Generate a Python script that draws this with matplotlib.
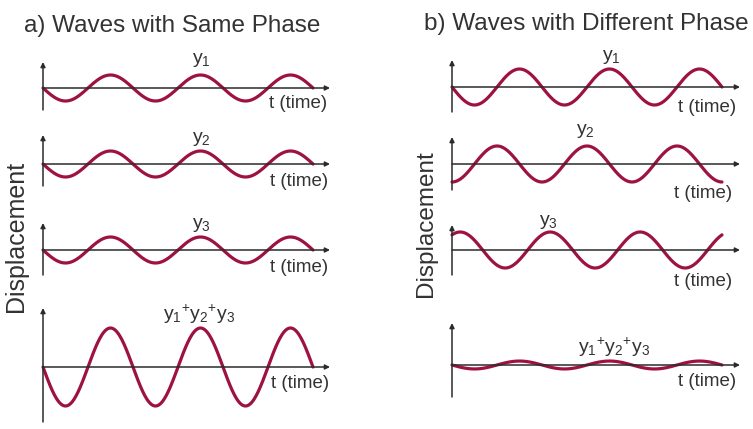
"""
Superposition of waves: same phase vs different phase
"""

import numpy as np
import matplotlib.pyplot as plt

plt.rcParams['font.family'] = ['Liberation Sans', 'DejaVu Sans']
plt.rcParams['mathtext.fontset'] = 'custom'
plt.rcParams['mathtext.rm'] = 'Liberation Sans'

W, H = 753, 429

# wave parameters (amplitude in units of one wave, phase in rad)
CYCLES = 3
LEFT_AMP = [1.0, 1.0, 1.0, 3.0]
LEFT_PHASE = [np.pi, np.pi, np.pi, np.pi]
RIGHT_AMP = [1.0, 1.0, 1.0, 0.22]
RIGHT_PHASE = [np.pi, -np.pi / 2, 1.0, np.pi]
WAVE_LABELS = [r'$\mathregular{y_1}$', r'$\mathregular{y_2}$', r'$\mathregular{y_3}$',
               r'$\mathregular{y_1{}^{+}y_2{}^{+}y_3}$']
TITLES = ['a) Waves with Same Phase', 'b) Waves with Different Phase']
T_LABEL = 't (time)'
Y_LABEL = 'Displacement'

WAVE_COLOR = '#9e1240'
AXIS_COLOR = '#2b2b2b'
TEXT_COLOR = '#333333'

# panel layout in pixels: axis_y, top, bottom
LEFT_ROWS = [(88, 62, 110), (164, 135, 186), (250, 223, 275), (367, 308, 422)]
RIGHT_ROWS = [(87, 60, 112), (164, 137, 190), (250, 225, 275), (365, 323, 397)]
LEFT_X = (43, 313, 330)     # origin, wave end, arrow tip
RIGHT_X = (452, 722, 740)
LEFT_UNIT, RIGHT_UNIT = 13, 18

LEFT_LBL = [(201, 60), (201, 139), (201, 225), (199, 314)]
RIGHT_LBL = [(611, 57), (585, 131), (548, 222), (614, 347)]
LEFT_T = [(298, 103), (299, 181), (299, 267), (300, 384)]
RIGHT_T = [(707, 108), (703, 193), (703, 282), (707, 382)]


def fx(px):
    return px / W


def fy(py):
    return 1 - py / H


def draw_panel(fig, xs, row, unit, amp, phase):
    x0, xend, xarrow = xs
    axis_y, top, bottom = row
    ax = fig.add_axes([fx(x0), fy(bottom), (xarrow - x0) / W, (bottom - top) / H])
    ax.set_xlim(0, (xarrow - x0) / (xend - x0))
    ax.set_ylim(-(bottom - axis_y) / unit, (axis_y - top) / unit)
    ax.axis('off')
    t = np.linspace(0, 1, 400)
    ax.plot(t, amp * np.sin(2 * np.pi * CYCLES * t + phase), color=WAVE_COLOR,
            lw=2.3, clip_on=False, zorder=3, solid_capstyle='round')
    xmin, xmax = ax.get_xlim()
    ymin, ymax = ax.get_ylim()
    arrow = dict(arrowstyle='-|>', color=AXIS_COLOR, lw=1.1, mutation_scale=7,
                 shrinkA=0, shrinkB=0)
    ax.annotate('', xy=(xmax, 0), xytext=(0, 0), arrowprops=arrow, annotation_clip=False)
    ax.annotate('', xy=(0, ymax), xytext=(0, ymin), arrowprops=arrow, annotation_clip=False)
    return ax


fig = plt.figure(figsize=(W / 100, H / 100), dpi=100)

for i in range(4):
    draw_panel(fig, LEFT_X, LEFT_ROWS[i], LEFT_UNIT, LEFT_AMP[i], LEFT_PHASE[i])
    draw_panel(fig, RIGHT_X, RIGHT_ROWS[i], RIGHT_UNIT, RIGHT_AMP[i], RIGHT_PHASE[i])
    for (x, y) in (LEFT_LBL[i], RIGHT_LBL[i]):
        fig.text(fx(x), fy(y), WAVE_LABELS[i], fontsize=14, color=TEXT_COLOR,
                 ha='center', va='center')
    for (x, y) in (LEFT_T[i], RIGHT_T[i]):
        fig.text(fx(x), fy(y), T_LABEL, fontsize=13.5, color=TEXT_COLOR,
                 ha='center', va='center')

fig.text(fx(172), fy(26), TITLES[0], fontsize=17.5, color=TEXT_COLOR, ha='center', va='center')
fig.text(fx(586), fy(24), TITLES[1], fontsize=17.5, color=TEXT_COLOR, ha='center', va='center')
fig.text(fx(16), fy(236), Y_LABEL, fontsize=18, color=TEXT_COLOR, rotation=90,
         ha='center', va='center')
fig.text(fx(426), fy(224), Y_LABEL, fontsize=17.5, color=TEXT_COLOR, rotation=90,
         ha='center', va='center')

fig.savefig('out.png', dpi=100)
